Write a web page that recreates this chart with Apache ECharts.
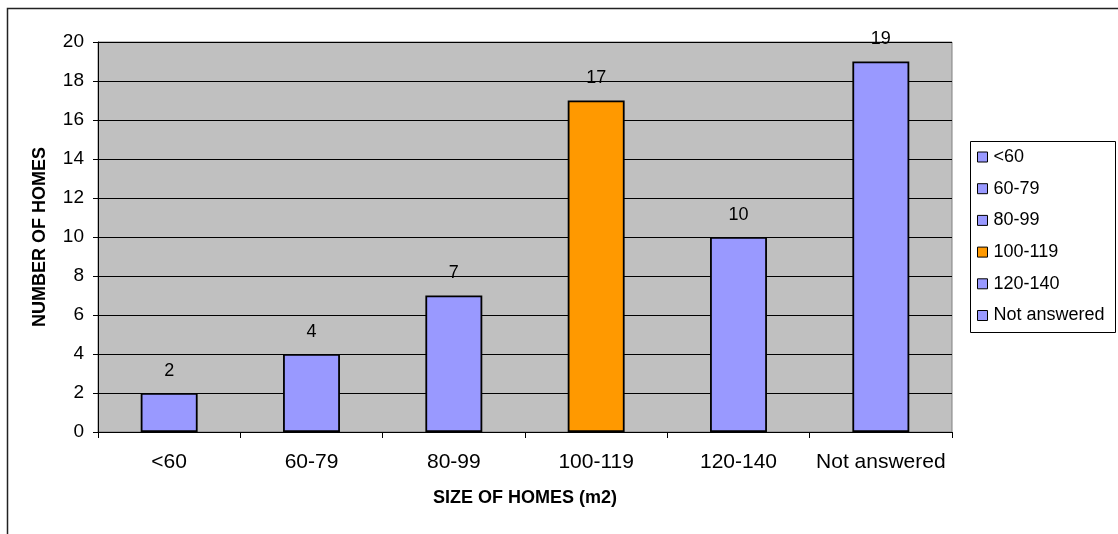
<!DOCTYPE html>
<html>
<head>
<meta charset="utf-8">
<script src="https://cdn.jsdelivr.net/npm/echarts@6/dist/echarts.min.js"></script>
<style>
  html, body { margin: 0; padding: 0; background: #ffffff; }
  #chart { width: 1118px; height: 534px; }
</style>
</head>
<body>
<div id="chart"></div>
<script>
// Home size survey: number of homes per floor-area band
const categories = ['<60', '60-79', '80-99', '100-119', '120-140', 'Not answered'];
const homeCounts = [2, 4, 7, 17, 10, 19];
const barColors = ['#9999FF', '#9999FF', '#9999FF', '#FF9900', '#9999FF', '#9999FF'];
const yTicks = { min: 0, max: 20, step: 2 };

const FONT = '"Liberation Sans", Arial, sans-serif';

// One series per band so each band gets its own legend entry;
// barGap -100% keeps every bar centred on its own category.
const series = categories.map((name, i) => ({
  name: name,
  type: 'bar',
  barWidth: '40%',
  barGap: '-100%',
  data: categories.map((_, j) => (j === i ? homeCounts[i] : null)),
  itemStyle: { color: barColors[i], borderColor: '#000000', borderWidth: 1.8 },
  label: {
    show: true,
    position: 'top',
    distance: 13,
    color: '#000000',
    fontFamily: FONT,
    fontSize: 18
  }
}));

const chart = echarts.init(document.getElementById('chart'), null, { renderer: 'canvas' });
chart.setOption({
  animation: false,
  backgroundColor: '#ffffff',
  textStyle: { fontFamily: FONT },
  grid: {
    left: 98, top: 42, right: 166, bottom: 102,
    show: true,
    backgroundColor: '#C0C0C0',
    borderColor: '#808080',
    borderWidth: 1
  },
  xAxis: {
    type: 'category',
    data: categories,
    name: 'SIZE OF HOMES (m2)',
    nameLocation: 'middle',
    nameGap: 57,
    nameTextStyle: { fontFamily: FONT, fontSize: 18, fontWeight: 'bold', color: '#000000' },
    axisLine: { show: true, lineStyle: { color: '#000000', width: 1 } },
    axisTick: { show: true, interval: 0, length: 6, lineStyle: { color: '#000000' } },
    axisLabel: { interval: 0, color: '#000000', fontFamily: FONT, fontSize: 21, margin: 20 },
    splitLine: { show: false }
  },
  yAxis: {
    type: 'value',
    min: yTicks.min,
    max: yTicks.max,
    interval: yTicks.step,
    name: 'NUMBER OF HOMES',
    nameLocation: 'middle',
    nameRotate: 90,
    nameGap: 49,
    nameTextStyle: { fontFamily: FONT, fontSize: 18, fontWeight: 'bold', color: '#000000' },
    axisLine: { show: true, lineStyle: { color: '#000000', width: 1 } },
    axisTick: { show: true, length: 5, lineStyle: { color: '#000000' } },
    axisLabel: { color: '#000000', fontFamily: FONT, fontSize: 19, margin: 14 },
    splitLine: { show: true, lineStyle: { color: '#000000', width: 1 } }
  },
  legend: {
    orient: 'vertical',
    left: 970,
    top: 141,
    padding: [6, 7, 6, 7],
    itemWidth: 10,
    itemHeight: 10,
    itemGap: 11.7,
    icon: 'rect',
    itemStyle: { borderColor: '#000000', borderWidth: 1 },
    textStyle: { color: '#000000', fontFamily: FONT, fontSize: 18, lineHeight: 20, padding: [0, 0, 0, 1] },
    data: categories
  },
  graphic: [
    // outer chart frame
    {
      type: 'rect',
      silent: true,
      shape: { x: 7.5, y: 8.5, width: 1300, height: 700 },
      style: { fill: null, stroke: '#222222', lineWidth: 1.5 },
      z: 100
    },
    // legend frame
    {
      type: 'rect',
      silent: true,
      shape: { x: 970.5, y: 141.5, width: 145, height: 191 },
      style: { fill: null, stroke: '#000000', lineWidth: 1 },
      z: 100
    }
  ],
  series: series
});
</script>
</body>
</html>
